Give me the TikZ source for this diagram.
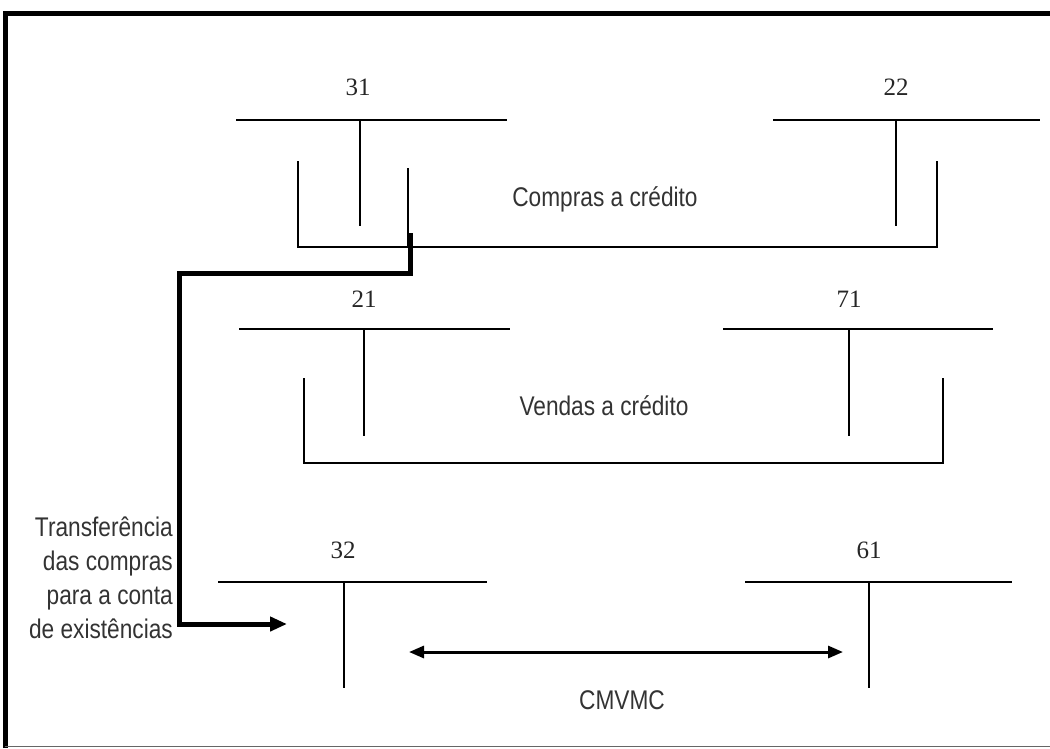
\documentclass[tikz,border=0pt]{standalone}
\usepackage{fontspec}
\setmainfont{Liberation Serif}
\newfontfamily\nsans[FakeStretch=0.84]{Liberation Sans}
\usetikzlibrary{arrows.meta}
\begin{document}
\begin{tikzpicture}[x=1pt,y=-1pt,
  tline/.style={line width=1.8pt},
  conn/.style={line width=5pt},
  num/.style={font=\fontsize{25}{30}\selectfont, text=black!85, inner sep=0pt, anchor=base},
  lab/.style={font=\nsans\fontsize{27}{34}\selectfont, text=black!80, inner sep=0pt, anchor=base}]
\useasboundingbox (0,0) rectangle (1050,748);
% frame
\draw[line width=5pt] (5,748) -- (5,13) -- (1050,13);
\draw[line width=1pt, black!60] (5,746) -- (1050,746);
% account 31
\draw[tline] (236,120) -- (507,120);
\draw[tline] (360,120) -- (360,226);
\node[num] (n31) at (358,95) {31};
% account 22
\draw[tline] (773,120) -- (1040,120);
\draw[tline] (896,120) -- (896,226);
\node[num] (n22) at (896,95) {22};
% bracket compras
\draw[tline] (298,161) -- (298,247) -- (937,247) -- (937,161);
\draw[tline] (408,168) -- (408,247);
\node[lab] (compras) at (605,206) {Compras a crédito};
% account 21
\draw[tline] (239,329) -- (510,329);
\draw[tline] (364,329) -- (364,436);
\node[num] (n21) at (364,307) {21};
% account 71
\draw[tline] (723,329) -- (993,329);
\draw[tline] (849,329) -- (849,436);
\node[num] (n71) at (849,307) {71};
% bracket vendas
\draw[tline] (304,378) -- (304,463) -- (943,463) -- (943,378);
\node[lab] (vendas) at (604,415) {Vendas a crédito};
% account 32
\draw[tline] (218,582) -- (487,582);
\draw[tline] (344,582) -- (344,688);
\node[num] (n32) at (343,558) {32};
% account 61
\draw[tline] (745,582) -- (1012,582);
\draw[tline] (869,582) -- (869,688);
\node[num] (n61) at (869,558) {61};
% transfer connector
\coordinate (c1) at (410,233);
\coordinate (c2) at (410,273);
\coordinate (c3) at (179,273);
\coordinate (c4) at (179,624);
\coordinate (c5) at (287,624);
\draw[conn, -{Triangle[length=17pt,width=14pt]}] (c1) -- (c2) -- (c3) -- (c4) -- (c5);
\node[font=\nsans\fontsize{27}{34}\selectfont, text=black!80, inner sep=0pt, align=right, anchor=north east] (transf) at (173,517) {Transferência\\das compras\\para a conta\\de existências};
% CMVMC
\coordinate (m1) at (409,652);
\coordinate (m2) at (843,652);
\draw[line width=3pt, {Triangle[length=15pt,width=12pt]}-{Triangle[length=15pt,width=12pt]}] (m1) -- (m2);
\node[lab] (cmvmc) at (622,709) {CMVMC};
\end{tikzpicture}
\end{document}
